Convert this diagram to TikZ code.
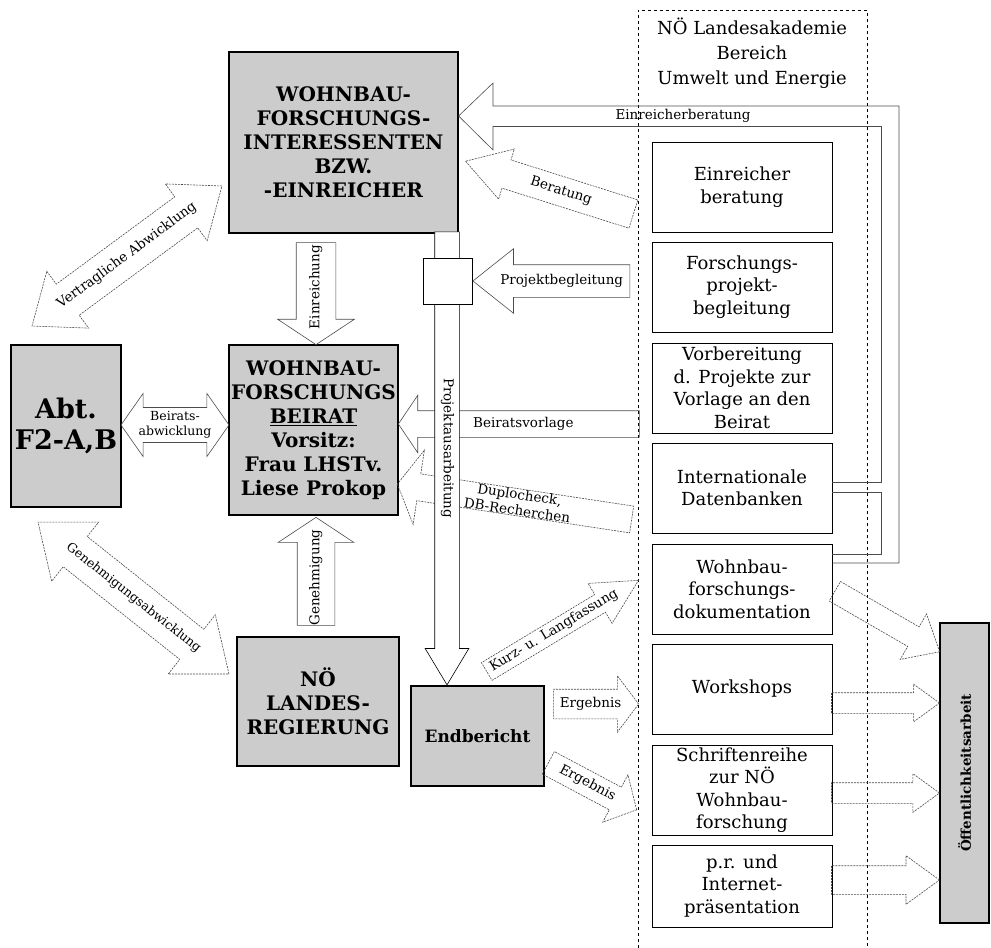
\documentclass[tikz,border=0pt]{standalone}
\usepackage{fontspec}
\setmainfont{DejaVu Serif}
\usetikzlibrary{shapes.arrows}

\tikzset{
  kasten/.style={draw,line width=1.2pt,fill=black!20,align=center,inner sep=0pt,
    font=\bfseries\fontsize{20}{24}\selectfont},
  stelle/.style={draw,line width=0.9pt,fill=white,align=center,inner sep=1pt,
    minimum width=180pt,minimum height=90pt,font=\fontsize{18}{22.5}\selectfont},
  pfeil/.style={single arrow,draw=black!70,line width=0.6pt,inner xsep=-8pt,
    align=center,font=\fontsize{13.5}{16}\selectfont},
  doppelpfeil/.style={double arrow,draw=black!70,line width=0.6pt,inner xsep=-12pt,
    align=center,font=\fontsize{13.5}{16}\selectfont},
  einzeilig/.style={text height=10pt,text depth=3.5pt},
  leer/.style={inner xsep=0pt},
  grau/.style={dash pattern=on 2pt off 1pt},
}

\begin{document}
\begin{tikzpicture}[x=1pt,y=-1pt]
  \useasboundingbox (0,0) rectangle (991,948);

  % Landesakademie
  \draw[dashed,thin] (638,948) -- (638,10) -- (867,10) -- (867,948);
  \node[font=\fontsize{18}{25}\selectfont,align=center] (akademie) at (752,53)
    {NÖ Landesakademie\\Bereich\\Umwelt und Energie};

  % grosse Kaesten
  \node[kasten,minimum width=229pt,minimum height=181pt] (interessent) at (343.5,142.5)
    {WOHNBAU-\\FORSCHUNGS-\\INTERESSENTEN\\BZW.\\-EINREICHER};
  \node[kasten,minimum width=110pt,minimum height=162pt,
    font=\bfseries\fontsize{27}{31}\selectfont] (abt) at (66,426) {Abt.\\F2-A,B};
  \node[kasten,minimum width=169pt,minimum height=170pt] (beirat) at (313.5,430)
    {WOHNBAU-\\FORSCHUNGS\\\underline{BEIRAT}\\Vorsitz:\\Frau LHSTv.\\Liese Prokop};
  \node[kasten,minimum width=162pt,minimum height=129pt] (regierung) at (318,701.5)
    {NÖ\\LANDES-\\REGIERUNG};
  \node[kasten,minimum width=133pt,minimum height=100pt,
    font=\bfseries\fontsize{17}{20}\selectfont] (endbericht) at (477.5,736) {Endbericht};
  \node[kasten,rotate=90,minimum width=300pt,minimum height=49pt,
    font=\bfseries\fontsize{13.5}{16}\selectfont] (oeff) at (964.5,773) {Öffentlichkeitsarbeit};

  % Leistungen der Akademie
  \node[stelle] (einreicherb) at (742,187) {Einreicher\\beratung};
  \node[stelle] (begleitung) at (742,287) {Forschungs-\\projekt-\\begleitung};
  \node[stelle] (vorbereitung) at (742,388) {Vorbereitung\\d. Projekte zur\\Vorlage an den\\Beirat};
  \node[stelle] (datenbanken) at (742,488) {Internationale\\Datenbanken};
  \node[stelle] (doku) at (742,589) {Wohnbau-\\forschungs-\\dokumentation};
  \node[stelle] (workshops) at (742,689) {Workshops};
  \node[stelle] (schriften) at (742,790) {Schriftenreihe\\zur NÖ\\Wohnbau-\\forschung};
  \node[stelle,minimum height=82pt] (pr) at (742,886) {p.r. und\\Internet-\\präsentation};

  % Pfeile links
  \node[doppelpfeil,einzeilig,grau,rotate=36.4,minimum height=236pt,inner ysep=12.25pt,
    double arrow head extend=16pt,double arrow tip angle=77] (vertrag) at (127,256)
    {Vertragliche Abwicklung};
  \node[doppelpfeil,font=\fontsize{12.5}{14.5}\selectfont,inner xsep=-6pt,
    minimum height=108pt,inner ysep=4pt,double arrow head extend=14pt,
    double arrow tip angle=110] (beiratsabw) at (175,425) {Beirats-\\abwicklung};
  \node[doppelpfeil,einzeilig,grau,rotate=-38.5,font=\fontsize{12.5}{15}\selectfont,
    minimum height=244pt,inner ysep=12.25pt,double arrow head extend=18.5pt,
    double arrow tip angle=77] (genehmabw) at (133.5,598) {Genehmigungsabwicklung};
  \node[pfeil,einzeilig,rotate=90,shape border rotate=180,anchor=tip,minimum height=102pt,
    inner ysep=12.75pt,single arrow head extend=18.5pt,single arrow tip angle=113]
    (einreichung) at (316,345) {Einreichung};
  \node[pfeil,einzeilig,rotate=90,anchor=tip,minimum height=108pt,
    inner ysep=11.75pt,single arrow head extend=19pt,single arrow tip angle=113]
    (genehmigung) at (316,517) {Genehmigung};

  % Pfeile zur Mitte
  \node[pfeil,einzeilig,grau,rotate=-17.5,shape border rotate=180,anchor=tip,
    minimum height=176pt,inner ysep=7.75pt,single arrow head extend=11.5pt,
    single arrow tip angle=63] (beratung) at (465,161) {Beratung};
  \node[pfeil,einzeilig,shape border rotate=180,anchor=tip,minimum height=241pt,
    inner ysep=6.25pt,single arrow head extend=15.5pt,single arrow tip angle=112]
    (vorlage) at (398,424) {Beiratsvorlage};
  \node[pfeil,grau,rotate=-8.6,shape border rotate=180,anchor=tip,minimum height=237pt,
    inner ysep=0pt,single arrow head extend=24pt,single arrow tip angle=120]
    (duplo) at (397,484) {Duplocheck,\\DB-Recherchen};
  \node[pfeil,einzeilig,grau,rotate=31,anchor=tip,minimum height=177pt,inner ysep=3.25pt,
    single arrow head extend=13pt,single arrow tip angle=55] (kurz) at (639,580)
    {Kurz- u. Langfassung};
  \node[pfeil,einzeilig,grau,anchor=tip,minimum height=85pt,inner ysep=7.75pt,
    single arrow head extend=13.5pt,single arrow tip angle=106] (ergebnis) at (639,704)
    {Ergebnis};
  \node[pfeil,einzeilig,grau,rotate=-28,anchor=tip,minimum height=100pt,inner ysep=5.75pt,
    single arrow head extend=14pt,single arrow tip angle=96] (ergebnis2) at (637,810)
    {Ergebnis};

  % Pfeile zur Oeffentlichkeitsarbeit
  \node[pfeil,einzeilig,leer,grau,rotate=-30,anchor=tip,minimum height=121pt,inner ysep=4.25pt,
    single arrow head extend=15pt,single arrow tip angle=82] (doku-oeff) at (940,652) {};
  \foreach \quelle/\ty/\ys/\ext in {workshops/703/3.25pt/8.5pt,schriften/793/3.25pt/9pt,pr/880/7.25pt/10pt}
    \node[pfeil,einzeilig,leer,grau,anchor=tip,minimum height=108pt,inner ysep=\ys,
      single arrow head extend=\ext,single arrow tip angle=72] (\quelle-oeff) at (940,\ty) {};

  % Einreicherberatung mit Sammelleitung
  \draw[draw=black!70,line width=0.6pt] (493,126) -- (493,150) -- (interessent.east |- 0,116)
    -- (493,83) -- (493,106) -- (899,106) -- (899,563) -- (doku.east |- 0,563);
  \draw[draw=black!70,line width=0.6pt] (493,126) -- (881,126) -- (881,482)
    -- (datenbanken.east |- 0,482);
  \draw[draw=black!70,line width=0.6pt] (datenbanken.east |- 0,492) -- (881,492)
    -- (881,554) -- (doku.east |- 0,554);
  \node[font=\fontsize{13.5}{16}\selectfont] (einreicherber) at (683,116) {Einreicherberatung};

  % Projektausarbeitung
  \node[pfeil,einzeilig,draw=black,fill=white,rotate=-90,anchor=tip,minimum height=453pt,
    inner ysep=5.25pt,single arrow head extend=9.5pt,single arrow tip angle=62]
    (ausarbeitung) at (endbericht.north -| 447,0) {Projektausarbeitung};
  \node[draw,fill=white,line width=0.9pt,minimum width=49pt,minimum height=46pt]
    (quadrat) at (447.5,281) {};
  \node[pfeil,einzeilig,shape border rotate=180,anchor=tip,minimum height=157pt,
    inner ysep=9.25pt,single arrow head extend=16pt,single arrow tip angle=77]
    (projbegl) at (quadrat.east) {Projektbegleitung};
\end{tikzpicture}
\end{document}
